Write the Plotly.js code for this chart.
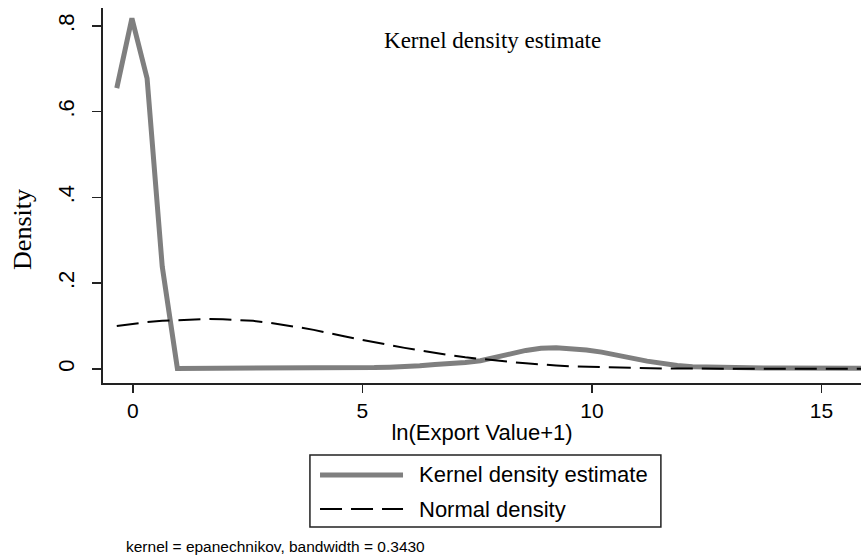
<!DOCTYPE html>
<html>
<head>
<meta charset="utf-8">
<script src="https://cdn.plot.ly/plotly-3.0.1.min.js"></script>
<style>html,body{margin:0;padding:0;background:#fff;}#chart{width:861px;height:558px;}</style>
</head>
<body>
<div id="chart"></div>
<script>
// Evaluation grid (ln(Export Value+1))
const gridX = [-0.35, -0.02, 0.31, 0.64, 0.97, 1.30, 1.63, 1.96, 2.29, 2.62,
  2.95, 3.28, 3.61, 3.94, 4.27, 4.60, 4.93, 5.26, 5.59, 5.92,
  6.25, 6.58, 6.91, 7.24, 7.57, 7.90, 8.23, 8.56, 8.89, 9.22,
  9.55, 9.88, 10.21, 10.54, 10.87, 11.20, 11.53, 11.86, 12.19, 12.52,
  12.85, 13.18, 13.51, 13.84, 14.17, 14.50, 14.83, 15.16, 15.49, 15.82, 16.15];

// Kernel density estimate
const kdeY = [0.655, 0.818, 0.678, 0.239, 0.001, 0.001, 0.001, 0.001, 0.001, 0.001,
  0.001, 0.001, 0.001, 0.001, 0.001, 0.002, 0.002, 0.003, 0.004, 0.005,
  0.007, 0.010, 0.012, 0.015, 0.019, 0.026, 0.035, 0.043, 0.048, 0.049,
  0.047, 0.044, 0.039, 0.033, 0.025, 0.018, 0.012, 0.008, 0.005, 0.004,
  0.003, 0.003, 0.002, 0.002, 0.002, 0.002, 0.002, 0.001, 0.001, 0.001, 0.001];

// Normal density
const normY = [0.100, 0.105, 0.109, 0.112, 0.114, 0.116, 0.1165, 0.116, 0.114, 0.112,
  0.108, 0.103, 0.097, 0.091, 0.083, 0.076, 0.069, 0.062, 0.055, 0.049,
  0.043, 0.037, 0.032, 0.027, 0.023, 0.019, 0.016, 0.013, 0.010, 0.008,
  0.006, 0.005, 0.004, 0.003, 0.002, 0.0015, 0.001, 0.001, 0.0005, 0.0005,
  0.0003, 0.0002, 0.0001, 0.0001, 0.0001, 0.0, 0.0, 0.0, 0.0, 0.0, 0.0];

const seriesNames = ["Kernel density estimate", "Normal density"];
const xTickVals = [0, 5, 10, 15];
const xTickText = ["0", "5", "10", "15"];
const yTickVals = [0, 0.2, 0.4, 0.6, 0.8];
const yTickText = ["0", ".2", ".4", ".6", ".8"];
const titleText = "Kernel density estimate";
const xTitle = "ln(Export Value+1)";
const yTitle = "Density";
const noteText = "kernel = epanechnikov, bandwidth = 0.3430";

const SANS = "Liberation Sans, Arial, sans-serif";
const SERIF = "Liberation Serif, Times New Roman, serif";
const kdeColor = "#7f7f7f";
const normDash = "22px,9px";

const traces = [
  {x: gridX, y: kdeY, type: "scatter", mode: "lines", name: seriesNames[0],
   line: {color: kdeColor, width: 5}, showlegend: false},
  {x: gridX, y: normY, type: "scatter", mode: "lines", name: seriesNames[1],
   line: {color: "#000000", width: 2, dash: normDash}, showlegend: false}
];

// custom legend (Stata style) in paper coordinates
const legBox = {x0: 0.273, x1: 0.736, y0: -0.384, y1: -0.192};
const rowY = [-0.245, -0.336];
const keyX = [0.2863, 0.3958];
const textX = 0.4142;

const layout = {
  width: 861, height: 558,
  margin: {l: 103, r: 0, t: 8, b: 175, pad: 0},
  paper_bgcolor: "#ffffff", plot_bgcolor: "#ffffff",
  showlegend: false,
  title: {text: titleText, font: {family: SERIF, size: 23, color: "#000"},
          xref: "paper", x: 0.514, xanchor: "center",
          yref: "container", y: 1 - 40/558, yanchor: "middle"},
  xaxis: {range: [-0.65, 15.86], tickvals: xTickVals, ticktext: xTickText,
          showgrid: false, zeroline: false, showline: true, linecolor: "#222", linewidth: 2,
          ticks: "outside", ticklen: 8, tickwidth: 1.5, tickcolor: "#222",
          tickfont: {family: SANS, size: 21, color: "#000"},
          title: {text: xTitle, font: {family: SANS, size: 22, color: "#000"}, standoff: 3},
          automargin: false},
  yaxis: {range: [-0.033, 0.842], tickvals: yTickVals, ticktext: yTickText, tickangle: -90,
          showgrid: false, zeroline: false, showline: true, linecolor: "#222", linewidth: 2,
          ticks: "outside", ticklen: 9, tickwidth: 1.5, tickcolor: "#222",
          tickfont: {family: SANS, size: 22, color: "#000"}, ticklabelstandoff: 9,
          automargin: false},
  shapes: [
    {type: "rect", xref: "paper", yref: "paper", x0: legBox.x0, x1: legBox.x1, y0: legBox.y0, y1: legBox.y1,
     line: {color: "#222", width: 1.5}, fillcolor: "rgba(0,0,0,0)"},
    {type: "line", xref: "paper", yref: "paper", x0: keyX[0], x1: keyX[1], y0: rowY[0], y1: rowY[0],
     line: {color: kdeColor, width: 5}},
    {type: "line", xref: "paper", yref: "paper", x0: keyX[0], x1: keyX[1], y0: rowY[1], y1: rowY[1],
     line: {color: "#000", width: 2, dash: normDash}}
  ],
  annotations: [
    {xref: "paper", yref: "paper", x: -0.106, y: 0.41, xanchor: "center", yanchor: "middle",
     textangle: -90, text: yTitle, showarrow: false, font: {family: SERIF, size: 26, color: "#000"}},
    {xref: "paper", yref: "paper", x: textX, y: rowY[0], xanchor: "left", yanchor: "middle",
     text: seriesNames[0], showarrow: false, font: {family: SANS, size: 22, color: "#000"}},
    {xref: "paper", yref: "paper", x: textX, y: rowY[1], xanchor: "left", yanchor: "middle",
     text: seriesNames[1], showarrow: false, font: {family: SANS, size: 22, color: "#000"}},
    {xref: "paper", yref: "paper", x: 0.0277, y: -0.437, xanchor: "left", yanchor: "middle",
     text: noteText, showarrow: false, font: {family: SANS, size: 15.5, color: "#000"}}
  ]
};

Plotly.newPlot("chart", traces, layout, {displayModeBar: false, staticPlot: true});
</script>
</body>
</html>
